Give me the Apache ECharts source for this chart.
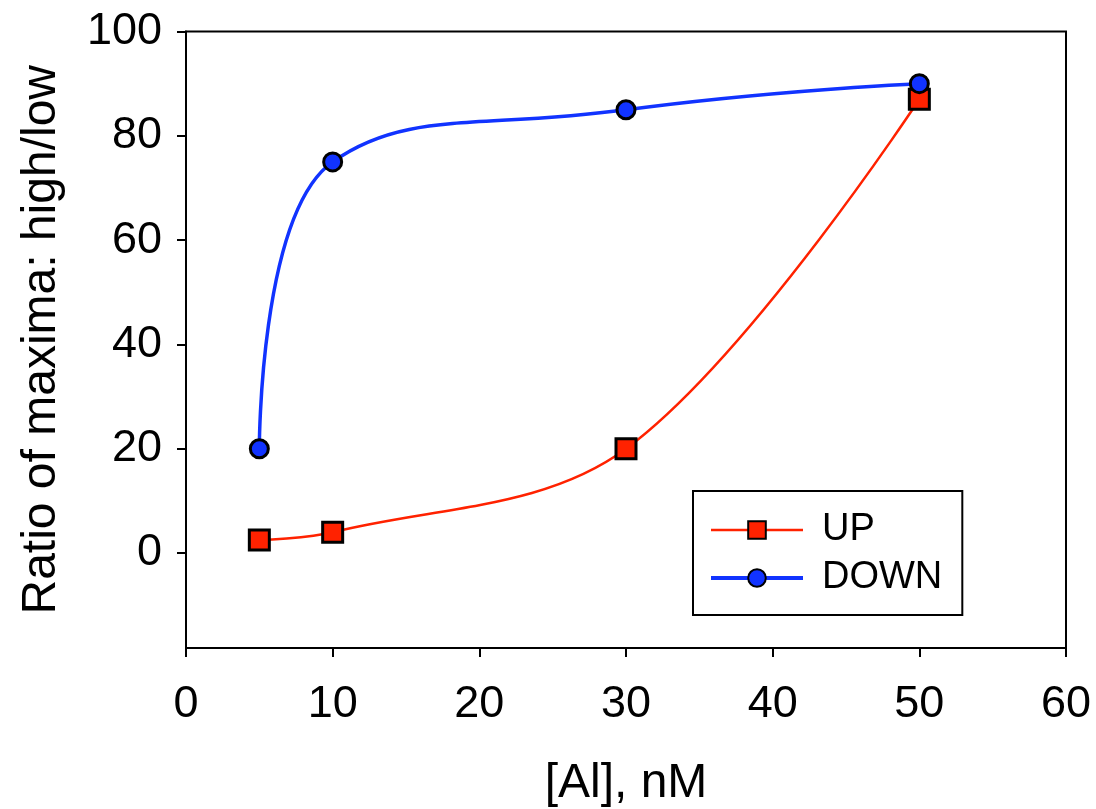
<!DOCTYPE html>
<html>
<head>
<meta charset="utf-8">
<script src="https://cdn.jsdelivr.net/npm/echarts@6/dist/echarts.min.js"></script>
<style>
html,body{margin:0;padding:0;background:#fff;}
#chart{width:1096px;height:809px;}
</style>
</head>
<body>
<div id="chart"></div>
<script>
// Data
var xValues = [5, 10, 30, 50];
var upValues = [2.5, 4, 20, 87];
var downValues = [20, 75, 85, 90];
var yTickValues = [0, 20, 40, 60, 80, 100];
var seriesNames = ['UP', 'DOWN'];
var xTitle = '[Al], nM';
var yTitle = 'Ratio of maxima: high/low';

function pairs(xs, ys) {
  return xs.map(function (x, i) { return [x, ys[i]]; });
}

var FONT = '"Liberation Sans", Arial, sans-serif';
var chart = echarts.init(document.getElementById('chart'), null, {renderer: 'canvas'});

chart.setOption({
  backgroundColor: '#ffffff',
  animation: false,
  grid: {
    left: 186, right: 30, top: 31.5, bottom: 161,
    containLabel: false, outerBoundsMode: 'none',
    show: true, borderColor: '#000', borderWidth: 2, backgroundColor: 'transparent'
  },
  legend: {
    orient: 'vertical',
    left: 693, top: 491,
    padding: [19, 20, 17, 16],
    borderColor: '#000', borderWidth: 2,
    itemWidth: 92, itemHeight: 22, itemGap: 8,
    textStyle: {fontFamily: FONT, fontSize: 38, color: '#000', lineHeight: 40, padding: [0, 0, 0, 14]},
    data: [
      {name: seriesNames[0], lineStyle: {width: 2.5}},
      {name: seriesNames[1], lineStyle: {width: 4}}
    ]
  },
  xAxis: {
    type: 'value', min: 0, max: 60, interval: 10,
    name: xTitle, nameLocation: 'middle', nameGap: 112,
    nameTextStyle: {fontFamily: FONT, fontSize: 48, color: '#000'},
    axisLine: {show: true, onZero: false, lineStyle: {color: '#000', width: 2}},
    axisTick: {show: true, inside: false, length: 9, lineStyle: {color: '#000', width: 2}},
    axisLabel: {fontFamily: FONT, fontSize: 45, color: '#000', margin: 34},
    splitLine: {show: false}
  },
  yAxis: {
    type: 'value', min: -18.2, max: 100,
    name: yTitle, nameLocation: 'middle', nameGap: 120, nameRotate: 90,
    nameTextStyle: {fontFamily: FONT, fontSize: 48, color: '#000'},
    axisLine: {show: true, onZero: false, lineStyle: {color: '#000', width: 2}},
    axisTick: {show: true, inside: false, length: 9, lineStyle: {color: '#000', width: 2}, customValues: yTickValues},
    axisLabel: {fontFamily: FONT, fontSize: 45, color: '#000', margin: 24, customValues: yTickValues},
    splitLine: {show: false}
  },
  series: [
    {
      name: seriesNames[0], type: 'line', smooth: 0.35,
      data: pairs(xValues, upValues),
      symbol: 'rect', symbolSize: 20,
      lineStyle: {color: '#ff2200', width: 2.5},
      itemStyle: {color: '#ff2200', borderColor: '#000', borderWidth: 3},
      emphasis: {disabled: true}
    },
    {
      name: seriesNames[1], type: 'line', smooth: 0.5,
      data: pairs(xValues, downValues),
      symbol: 'circle', symbolSize: 18,
      lineStyle: {color: '#1133ff', width: 3.5},
      itemStyle: {color: '#1133ff', borderColor: '#000', borderWidth: 3},
      emphasis: {disabled: true}
    }
  ]
});
</script>
</body>
</html>
